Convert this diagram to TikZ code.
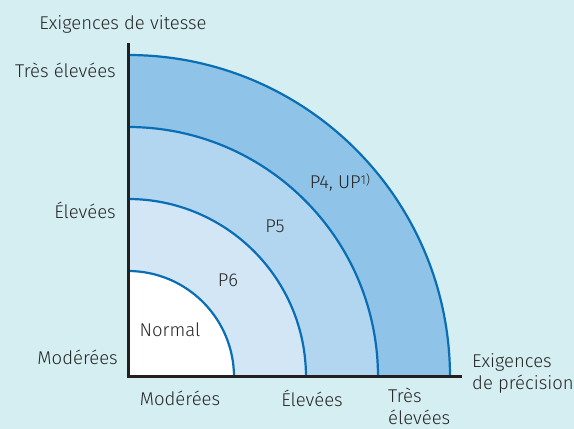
\documentclass[tikz,border=0pt]{standalone}
\usepackage{fontspec}
\setmainfont{Fira Sans}[UprightFont=* Light]
\usepackage{tikz}
\usetikzlibrary{positioning,calc}
\definecolor{bgblue}{HTML}{D5EEF2}
\definecolor{bandA}{HTML}{8FC3E8}
\definecolor{bandB}{HTML}{B3D6F0}
\definecolor{bandC}{HTML}{D2E6F6}
\definecolor{arcblue}{HTML}{0A6EB4}
\definecolor{axisgray}{HTML}{231F20}

\begin{document}
\begin{tikzpicture}[x=1pt,y=1pt,
  lbl/.style={font=\fontsize{18.5}{22}\selectfont, text=black!85, inner sep=0pt},
  ring/.style={draw=arcblue, line width=2.2pt},
  axis/.style={draw=axisgray, line width=3pt}]

% ===== frame 574 x 429 =====
\fill[bgblue] (0,0) rectangle (574,429);
\useasboundingbox (0,0) rectangle (574,429);
\coordinate (O) at (128,52);

% ============ bands ============
\fill[bandA] (O) -- ++(322,0) arc (0:90:322) -- cycle;
\fill[bandB] (O) -- ++(250,0) arc (0:90:250) -- cycle;
\fill[bandC] (O) -- ++(178,0) arc (0:90:178) -- cycle;
\fill[white] (O) -- ++(106,0) arc (0:90:106) -- cycle;
\foreach \r in {106,178,250,322}
  \draw[ring] ($(O)+(\r,0)$) arc (0:90:\r);

% ============ axes ============
\coordinate (ytop) at (128,386);
\coordinate (xend) at (462,52);
\draw[axis] (ytop) -- ($(O)+(0,-1.5)$);
\draw[axis] ($(O)+(-1.5,0)$) -- (xend);

% ============ labels ============
\node[lbl] (vit) at (123,405) {Exigences de vitesse};
\node[lbl, anchor=east] (ytres) at (116,359) {Très élevées};
\node[lbl, anchor=east] (yele) at (116,219) {Élevées};
\node[lbl, anchor=east] (ymod) at (118,72) {Modérées};
\node[lbl] (xmod) at (180,31) {Modérées};
\node[lbl] (xele) at (312,31) {Élevées};
\node[lbl, align=left, anchor=north west] (xtres) at (388,41) {Très\\élevées};
\node[lbl, align=left, anchor=west] (prec) at (472,56) {Exigences\\de précision};
\node[lbl] (normal) at (170,99) {Normal};
\node[lbl] (p6) at (228,149) {P6};
\node[lbl] (p5) at (275,203) {P5};
\node[lbl] (p4) at (340,247) {P4, UP\raisebox{4pt}{\fontsize{13}{14}\selectfont 1)}};

\end{tikzpicture}
\end{document}
